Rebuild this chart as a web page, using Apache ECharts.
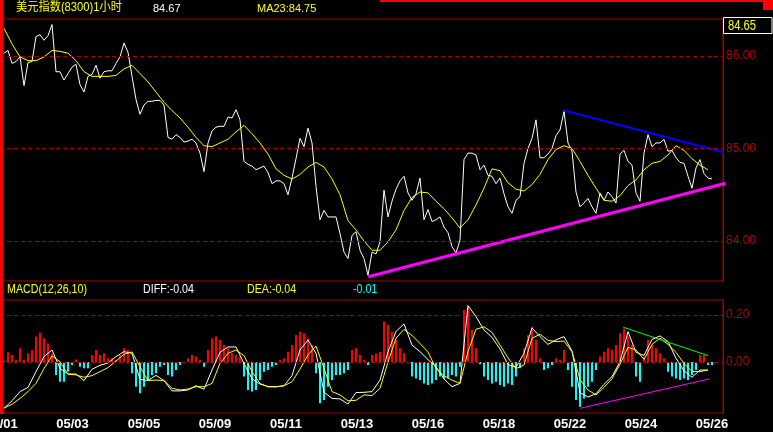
<!DOCTYPE html>
<html><head><meta charset="utf-8">
<script src="https://cdn.jsdelivr.net/npm/echarts@6/dist/echarts.min.js"></script>
<style>html,body{margin:0;padding:0;background:#000;}#c{width:773px;height:432px;}</style>
</head><body><div id="c"></div>
<script>
// ---- data (x unit = one hourly bar) ----
const priceStep = 2;
const priceVals = [
86.03,86.06,85.92,85.94,85.99,85.68,85.93,85.94,86.21,86.23,86.17,86.22,86.34,85.83,85.83,85.74,85.81,85.88,85.91,85.69,
85.61,85.78,85.80,85.90,85.76,85.83,85.84,85.84,85.92,85.99,86.14,86.04,85.78,85.53,85.37,85.47,85.51,85.51,85.52,85.52,
85.47,85.12,85.10,85.15,85.12,
85.07,85.08,85.10,85.06,84.95,84.75,85.06,85.19,85.23,85.24,85.24,85.34,85.33,85.42,85.31,84.86,84.83,84.81,84.77,84.79,
84.81,84.74,84.62,84.65,84.65,84.62,84.50,84.68,84.89,85.11,85.02,85.22,85.06,84.59,84.23,84.33,84.26,84.26,84.26,84.08,
83.88,83.81,84.06,84.10,83.90,
83.81,83.63,83.88,83.86,83.99,84.55,84.26,84.43,84.56,84.65,84.70,84.52,84.44,84.51,84.68,84.23,84.34,84.21,84.23,84.26,
84.15,84.09,83.94,83.87,84.01,84.88,84.95,84.95,84.93,84.77,84.82,84.71,84.70,84.62,84.68,84.51,84.37,84.30,84.44,84.48,
84.84,85.00,85.11,85.31,84.90,
84.90,84.94,85.00,85.14,85.20,85.40,85.06,84.97,84.53,84.37,84.41,84.46,84.37,84.30,84.52,84.44,84.53,84.48,84.41,84.94,
84.98,84.86,84.82,84.52,84.43,84.95,85.15,85.02,85.06,85.06,85.10,84.97,84.98,84.90,84.85,84.84,84.70,84.57,84.79,84.88,
84.73,84.68,84.67
];
const maStep = 4;
const ma23Vals = [
86.30,86.13,85.99,85.95,85.95,85.99,86.06,86.05,86.03,85.95,85.83,85.78,85.78,85.78,85.79,85.86,85.90,85.81,85.72,85.61,85.50,85.41,85.33,
85.23,85.12,85.03,85.02,85.06,85.10,85.18,85.25,85.16,85.06,84.94,84.78,84.71,84.67,84.72,84.80,84.85,84.80,84.67,84.50,84.22,84.12,
84.00,83.90,83.90,83.99,84.12,84.33,84.47,84.53,84.52,84.43,84.35,84.25,84.14,84.23,84.39,84.57,84.78,84.76,84.63,84.56,84.54,84.61,84.72,
84.88,84.99,85.03,85.00,84.86,84.71,84.57,84.44,84.43,84.49,84.60,84.66,84.77,84.84,84.86,84.93,85.03,84.98,84.89,84.82,84.77
];
const histStep = 2;
const histVals = [
0.005,0.041,0.030,0.009,0.058,0.009,0.037,0.051,0.108,0.125,0.101,0.079,0.037,-0.055,-0.084,-0.084,-0.041,-0.013,0.011,-0.020,
-0.027,-0.027,0.030,0.051,0.030,0.037,0.016,0.016,0.009,0.030,
0.058,0.051,-0.048,-0.105,-0.133,-0.105,-0.077,-0.055,-0.048,-0.020,-0.013,-0.055,-0.062,-0.034,-0.013,-0.003,0.016,0.030,0.023,0.009,
-0.020,0.051,0.101,0.108,0.094,0.072,0.058,0.037,0.030,0.023,-0.062,-0.119,-0.126,-0.119,-0.077,-0.041,-0.034,-0.020,-0.013,0.009,
0.016,0.044,0.072,0.115,0.129,0.122,0.101,0.072,-0.048,-0.176,-0.162,-0.105,-0.077,-0.055,-0.055,-0.048,-0.034,0.051,0.058,0.030,
0.009,-0.013,0.030,0.037,0.044,
0.172,0.157,0.129,0.094,0.058,0.037,0.000,-0.062,-0.070,-0.077,-0.091,-0.098,-0.091,-0.077,-0.062,-0.070,-0.070,-0.055,-0.062,-0.020,
0.221,0.235,0.136,0.058,-0.010,-0.062,-0.077,-0.091,-0.084,
-0.098,-0.105,-0.091,-0.098,-0.062,-0.027,0.058,0.115,0.150,0.094,0.016,-0.034,-0.027,-0.013,0.016,0.009,0.051,-0.034,-0.105,-0.162,
-0.190,-0.155,-0.105,-0.084,-0.034,0.023,0.044,0.058,0.051,0.072,0.122,0.143,0.108,0.072,-0.062,-0.084,0.023,0.094,0.072,0.058,
0.037,0.016,-0.041,-0.062,-0.070,-0.077,-0.070,-0.077,-0.055,-0.034,0.030,0.030,-0.013,-0.013
];
const lineStep = 4;
const diffVals = [
-0.197,-0.165,-0.126,-0.108,-0.041,0.023,0.051,-0.027,-0.051,-0.051,-0.079,-0.031,-0.014,-0.004,0.023,0.044,0.037,-0.074,-0.079,-0.057,
-0.079,-0.123,-0.123,-0.119,-0.101,-0.116,-0.034,0.041,0.064,0.064,-0.006,-0.071,-0.094,-0.104,-0.105,-0.101,-0.058,0.051,0.094,0.037,
-0.128,-0.155,-0.157,-0.179,-0.130,-0.129,-0.126,-0.077,
0.043,0.130,0.162,0.072,0.044,0.010,-0.020,-0.072,-0.105,-0.091,0.240,0.193,0.136,0.105,0.055,-0.011,-0.023,0.037,0.145,0.108,
0.075,0.094,0.108,0.047,-0.130,-0.149,-0.135,-0.095,-0.062,0.001,0.129,0.041,0.028,0.096,0.111,0.087,0.016,-0.037,-0.065,-0.034,-0.034
];
const deaVals = [
-0.196,-0.180,-0.155,-0.126,-0.091,-0.028,0.026,0.001,-0.052,-0.055,-0.065,-0.058,-0.041,-0.024,0.004,0.033,0.043,-0.020,-0.079,-0.077,
-0.079,-0.112,-0.119,-0.115,-0.105,-0.105,-0.091,-0.006,0.037,0.051,0.027,-0.041,-0.091,-0.106,-0.106,-0.101,-0.084,-0.030,0.030,0.068,
-0.027,-0.126,-0.140,-0.165,-0.163,-0.140,-0.143,-0.112,
0.000,0.101,0.139,0.113,0.079,0.043,-0.028,-0.058,-0.077,-0.091,0.044,0.139,0.150,0.126,0.072,0.018,-0.028,-0.013,0.101,0.118,
0.092,0.087,0.089,0.044,-0.074,-0.119,-0.140,-0.108,-0.071,-0.009,0.062,0.051,0.011,0.075,0.101,0.075,0.041,-0.006,-0.040,-0.041,-0.034
];
const priceTicks = [84, 85, 86];
const macdTicks = [0, 0.2];
const dateLabels = ['05/01','05/03','05/05','05/09','05/11','05/13','05/16','05/18','05/22','05/24','05/26'];
const datePos = [-1.25, 34.25, 70, 105.5, 141, 176.5, 212, 247.5, 283, 318.5, 354];
const priceTrendUpper = [[279.35, 85.416], [366.85, 84.919]];
const priceTrendLower = [[182.15, 83.614], [366.85, 84.659]];
const macdTrendUpper = [[309.65, 0.148], [352.15, 0.027]];
const macdTrendLower = [[288, -0.197], [352.65, -0.072]];
const headerTexts = { title: '美元指数(8300)1小时', close: '84.67', ma: 'MA23:84.75', macd: 'MACD(12,26,10)', diff: 'DIFF:-0.04', dea: 'DEA:-0.04', macdVal: '-0.01', box: '84.65' };

// ---- chart ----
const RED_LINE = '#a80000';
const SANS = "'Liberation Sans',Arial,sans-serif";
const toPairs = (arr, step) => arr.map((v, i) => [i * step, v]);
const chart = echarts.init(document.getElementById('c'), null, { renderer: 'canvas' });

const xBase = { type: 'value', min: -2, max: 359.5, axisLine: { show: false }, axisTick: { show: false }, splitLine: { show: false } };
const yLabel = { formatter: v => v.toFixed(2), color: '#b00000', fontSize: 12, fontFamily: SANS, margin: 3 };
const dashed = ticks => ({ silent: true, symbol: ['none', 'none'], label: { show: false }, animation: false,
  lineStyle: { color: RED_LINE, type: [4, 3], width: 1 }, data: ticks.map(v => ({ yAxis: v })) });
const option = {
  backgroundColor: '#000',
  animation: false,
  grid: [
    { left: 0, right: 50, top: 19, height: 262, show: true, borderColor: RED_LINE, borderWidth: 1, containLabel: false, outerBoundsMode: 'none' },
    { left: 0, right: 50, top: 300, height: 113, show: true, borderColor: RED_LINE, borderWidth: 1, containLabel: false, outerBoundsMode: 'none' }
  ],
  xAxis: [
    Object.assign({}, xBase, { gridIndex: 0, axisLabel: { show: false } }),
    Object.assign({}, xBase, { gridIndex: 1, axisLabel: {
      show: true, customValues: datePos, color: '#fff', fontWeight: 'bold', fontSize: 13, fontFamily: SANS, margin: 5, hideOverlap: false,
      formatter: v => { let b = 0; datePos.forEach((p, i) => { if (Math.abs(p - v) < Math.abs(datePos[b] - v)) b = i; }); return dateLabels[b]; }
    } })
  ],
  yAxis: [
    { type: 'value', gridIndex: 0, position: 'right', min: 83.5676, max: 86.4,
      axisLine: { show: true, onZero: false, lineStyle: { color: RED_LINE } }, axisTick: { show: false }, splitLine: { show: false },
      axisLabel: Object.assign({ customValues: priceTicks }, yLabel) },
    { type: 'value', gridIndex: 1, position: 'right', min: -0.21702, max: 0.26383,
      axisLine: { show: true, onZero: false, lineStyle: { color: RED_LINE } }, axisTick: { show: false }, splitLine: { show: false },
      axisLabel: Object.assign({ customValues: macdTicks }, yLabel) }
  ],
  series: [
    { type: 'line', xAxisIndex: 0, yAxisIndex: 0, data: toPairs(priceVals, priceStep), symbol: 'none', silent: true,
      lineStyle: { color: '#ffffff', width: 1 }, markLine: dashed(priceTicks) },
    { type: 'line', xAxisIndex: 0, yAxisIndex: 0, data: toPairs(ma23Vals, maStep), symbol: 'none', silent: true,
      lineStyle: { color: '#ffff00', width: 1 } },
    { type: 'line', xAxisIndex: 0, yAxisIndex: 0, data: priceTrendUpper, symbol: 'none', silent: true, clip: false,
      lineStyle: { color: '#0000ff', width: 2 } },
    { type: 'line', xAxisIndex: 0, yAxisIndex: 0, data: priceTrendLower, symbol: 'none', silent: true, clip: false,
      lineStyle: { color: '#ff00ff', width: 3 } },
    { type: 'custom', xAxisIndex: 1, yAxisIndex: 1, data: toPairs(histVals, histStep), silent: true, clip: true,
      markLine: dashed(macdTicks),
      renderItem: (params, api) => {
        const x = api.value(0), v = api.value(1);
        const p0 = api.coord([x, 0]), p1 = api.coord([x, v]);
        return { type: 'rect', shape: { x: Math.round(p0[0]) - 1, y: Math.min(p0[1], p1[1]), width: 2, height: Math.abs(p1[1] - p0[1]) },
          style: { fill: v >= 0 ? '#ff0000' : '#00ffff' } };
      } },
    { type: 'line', xAxisIndex: 1, yAxisIndex: 1, data: toPairs(diffVals, lineStep), symbol: 'none', silent: true,
      lineStyle: { color: '#ffffff', width: 1 } },
    { type: 'line', xAxisIndex: 1, yAxisIndex: 1, data: toPairs(deaVals, lineStep), symbol: 'none', silent: true,
      lineStyle: { color: '#ffff00', width: 1 } },
    { type: 'line', xAxisIndex: 1, yAxisIndex: 1, data: macdTrendUpper, symbol: 'none', silent: true, clip: false,
      lineStyle: { color: '#00ff00', width: 1 } },
    { type: 'line', xAxisIndex: 1, yAxisIndex: 1, data: macdTrendLower, symbol: 'none', silent: true, clip: false,
      lineStyle: { color: '#ff00ff', width: 1 } }
  ],
  graphic: [
    { type: 'rect', shape: { x: 0, y: 0, width: 3, height: 414 }, style: { fill: '#ff0000' }, z: 100 },
    { type: 'rect', shape: { x: 380, y: 0, width: 393, height: 2 }, style: { fill: '#ff0000' }, z: 100 },
    { type: 'rect', shape: { x: 763, y: 0, width: 10, height: 10 }, style: { fill: '#ff0000' }, z: 100 },
    { type: 'rect', shape: { x: 723.5, y: 17.5, width: 48.5, height: 16 }, style: { fill: '#000', stroke: '#ffffff', lineWidth: 1 }, z: 100 },
    { type: 'text', x: 728, y: 26, scaleX: 0.8, z: 101, style: { text: headerTexts.box, fill: '#ffff00', font: '14px ' + SANS, verticalAlign: 'middle' } },
    { type: 'text', x: 16, y: 8, scaleX: 0.935, z: 101, style: { text: headerTexts.title, fill: '#ffff00', font: "12px 'Liberation Sans','Noto Sans CJK SC',sans-serif", verticalAlign: 'middle' } },
    { type: 'text', x: 153, y: 8.5, z: 101, style: { text: headerTexts.close, fill: '#ffffff', font: '11px ' + SANS, verticalAlign: 'middle' } },
    { type: 'text', x: 257, y: 8.5, z: 101, style: { text: headerTexts.ma, fill: '#ffff00', font: '11px ' + SANS, verticalAlign: 'middle' } },
    { type: 'text', x: 7, y: 289.5, scaleX: 0.82, z: 101, style: { text: headerTexts.macd, fill: '#ffff00', font: '13px ' + SANS, verticalAlign: 'middle' } },
    { type: 'text', x: 143, y: 289.5, scaleX: 0.82, z: 101, style: { text: headerTexts.diff, fill: '#ffffff', font: '13px ' + SANS, verticalAlign: 'middle' } },
    { type: 'text', x: 247, y: 289.5, scaleX: 0.82, z: 101, style: { text: headerTexts.dea, fill: '#ffff00', font: '13px ' + SANS, verticalAlign: 'middle' } },
    { type: 'text', x: 353, y: 289.5, scaleX: 0.82, z: 101, style: { text: headerTexts.macdVal, fill: '#00ffff', font: '13px ' + SANS, verticalAlign: 'middle' } }
  ]
};
chart.setOption(option);
</script>
</body></html>
